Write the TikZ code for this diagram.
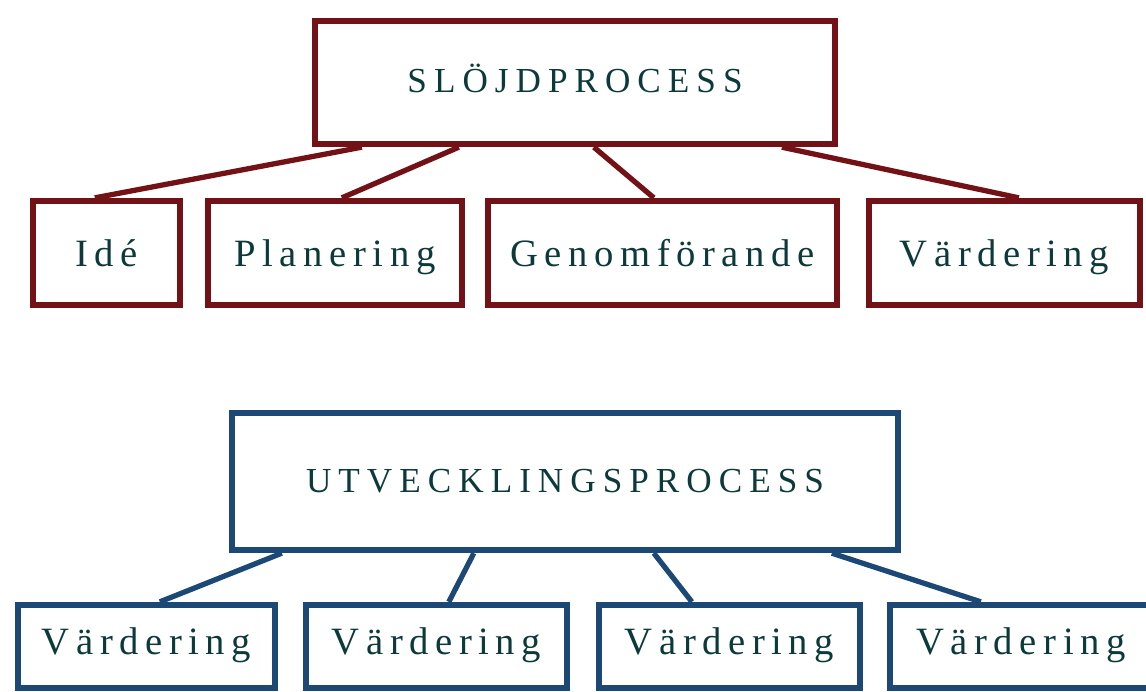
\documentclass[tikz,border=0pt]{standalone}
\usepackage{fontspec}
\setmainfont{Liberation Serif}
\definecolor{slojdred}{RGB}{115,18,22}
\definecolor{utvblue}{RGB}{28,72,118}
\definecolor{labeltext}{RGB}{12,58,58}
\tikzstyle{redbox}=[shape=rectangle,
                draw=slojdred,
                line width=3.6pt,
                inner sep=0pt,
                text=labeltext,
                text depth=0pt,
                text height=0.52cm,
                minimum height=2.08cm,
                font=\fontsize{22}{27}\selectfont\addfontfeature{LetterSpace=17}]
\tikzstyle{bluebox}=[shape=rectangle,
                draw=utvblue,
                line width=3.6pt,
                inner sep=0pt,
                text=labeltext,
                text depth=0pt,
                text height=0.3cm,
                minimum height=1.66cm,
                font=\fontsize{22}{27}\selectfont\addfontfeature{LetterSpace=17}]
\tikzstyle{redline}=[draw=slojdred, line width=3pt]
\tikzstyle{blueline}=[draw=utvblue, line width=3pt]

\begin{document}
\begin{tikzpicture}
\useasboundingbox (0,0) rectangle (22.92,-13.82);

% sloejdprocess
\node[redbox, minimum width=10.4cm, minimum height=2.46cm, text height=0.38cm,
      font=\fontsize{20}{24}\selectfont\addfontfeature{LetterSpace=20}]
      (slojd) at (11.5,-1.65) {SLÖJDPROCESS};
\node[redbox, minimum width=2.94cm] (ide)   at (2.13,-5.06)  {Idé};
\node[redbox, minimum width=5.08cm] (plan)  at (6.7,-5.06)   {Planering};
\node[redbox, minimum width=6.98cm] (genom) at (13.25,-5.06) {Genomförande};
\node[redbox, minimum width=5.42cm] (vard)  at (20.09,-5.06) {Värdering};

\path[redline] ([xshift=1cm]slojd.south west)    -- ([xshift=1.3cm]ide.north west)
               ([xshift=2.94cm]slojd.south west) -- ([xshift=2.74cm]plan.north west)
               ([xshift=5.64cm]slojd.south west) -- ([xshift=3.38cm]genom.north west)
               ([xshift=9.4cm]slojd.south west)  -- ([xshift=3.06cm]vard.north west);

% utvecklingsprocess
\node[bluebox, minimum width=13.32cm, minimum height=2.74cm, text height=0.42cm,
      font=\fontsize{20}{24}\selectfont\addfontfeature{LetterSpace=20}]
      (utv) at (11.3,-9.63) {UTVECKLINGSPROCESS};
\node[bluebox, minimum width=5.14cm] (v1) at (2.93,-12.93)  {Värdering};
\node[bluebox, minimum width=5.22cm] (v2) at (8.73,-12.93)  {Värdering};
\node[bluebox, minimum width=5.22cm] (v3) at (14.59,-12.93) {Värdering};
\node[bluebox, minimum width=5.24cm] (v4) at (20.42,-12.93) {Värdering};

\path[blueline] ([xshift=1.06cm]utv.south west)  -- ([xshift=2.9cm]v1.north west)
                ([xshift=4.9cm]utv.south west)   -- ([xshift=2.92cm]v2.north west)
                ([xshift=8.5cm]utv.south west)   -- ([xshift=1.92cm]v3.north west)
                ([xshift=12.06cm]utv.south west) -- ([xshift=1.88cm]v4.north west);

\end{tikzpicture}
\end{document}
